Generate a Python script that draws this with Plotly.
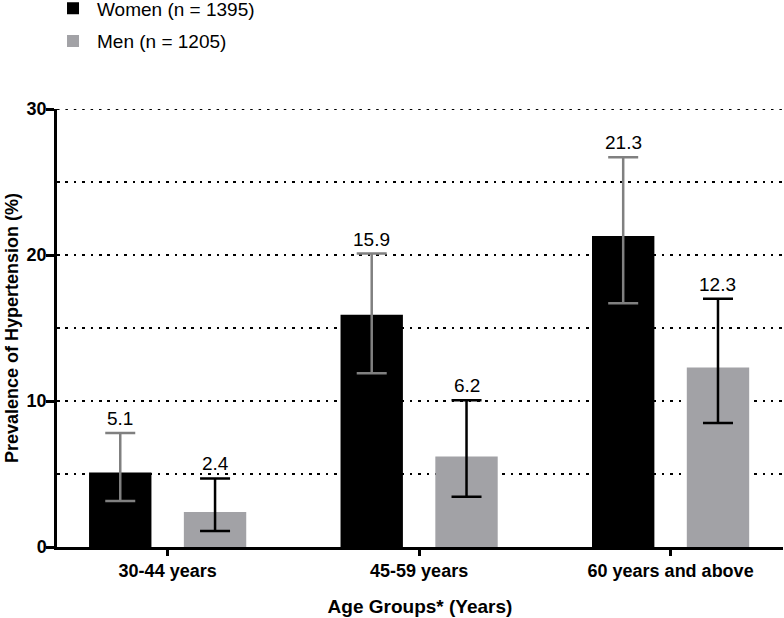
import plotly.graph_objects as go

# ---- data ----
categories = ["30-44 years", "45-59 years", "60 years and above"]
women = [5.1, 15.9, 21.3]
women_lo = [3.15, 11.9, 16.7]
women_hi = [7.8, 20.1, 26.7]
men = [2.4, 6.2, 12.3]
men_lo = [1.1, 3.45, 8.5]
men_hi = [4.7, 10.05, 17.0]
women_name = "Women (n = 1395)"
men_name = "Men (n = 1205)"
y_ticks = [0, 10, 20, 30]

FONT = "Liberation Sans, Arial, Helvetica, sans-serif"
BARGAP = 0.246
BARGROUPGAP = 0.342
off = (1 - BARGAP) / 4
DOT = "2.5px,5.9px"

fig = go.Figure()
fig.add_trace(go.Bar(
    x=categories, y=women, name=women_name,
    marker=dict(color="#000000", line=dict(width=0)),
    error_y=dict(type="data", symmetric=False,
                 array=[h - v for h, v in zip(women_hi, women)],
                 arrayminus=[v - l for v, l in zip(women, women_lo)],
                 color="#808080", thickness=2.5, width=15),
    legendgroup="w",
))
fig.add_trace(go.Bar(
    x=categories, y=men, name=men_name,
    marker=dict(color="#a2a2a6", line=dict(width=0)),
    error_y=dict(type="data", symmetric=False,
                 array=[h - v for h, v in zip(men_hi, men)],
                 arrayminus=[v - l for v, l in zip(men, men_lo)],
                 color="#000000", thickness=2.5, width=15),
    legendgroup="m",
))

annotations = []
for i, (v, h) in enumerate(zip(women, women_hi)):
    annotations.append(dict(x=i - off, y=h, xref="x", yref="y", text=f"{v}",
                            showarrow=False, yanchor="bottom", yshift=2,
                            font=dict(size=19, color="#000000", family=FONT)))
for i, (v, h) in enumerate(zip(men, men_hi)):
    annotations.append(dict(x=i + off, y=h, xref="x", yref="y", text=f"{v}",
                            showarrow=False, yanchor="bottom", yshift=2,
                            font=dict(size=19, color="#000000", family=FONT)))

# dotted gridline at the top of the axis (plotly skips the edge gridline)
shapes = [dict(type="line", xref="paper", yref="y", x0=0, x1=1,
               y0=max(y_ticks), y1=max(y_ticks), layer="below",
               line=dict(color="#000000", width=2.2, dash=DOT))]

fig.update_layout(
    width=784, height=618,
    margin=dict(l=57, r=1, t=109, b=71, autoexpand=False),
    paper_bgcolor="white", plot_bgcolor="white",
    barmode="group", bargap=BARGAP, bargroupgap=BARGROUPGAP,
    font=dict(family=FONT, color="#000000"),
    annotations=annotations,
    shapes=shapes,
    legend=dict(x=-0.011, y=1.273, xanchor="left", yanchor="top",
                font=dict(size=19, family=FONT), itemwidth=38,
                tracegroupgap=5, bgcolor="rgba(0,0,0,0)"),
    showlegend=True,
)
fig.update_xaxes(
    type="category", range=[-0.44, 2.447], automargin=False,
    showline=True, linecolor="#000000", linewidth=2.5,
    ticks="outside", ticklen=6, tickwidth=2.5, tickcolor="#000000",
    tickfont=dict(size=18, family=FONT, weight="bold"),
    showgrid=False, zeroline=False,
    title=dict(text="Age Groups* (Years)", font=dict(size=19, family=FONT, weight="bold"),
               standoff=20),
)
fig.update_yaxes(
    range=[0, 30], tickvals=y_ticks, automargin=False,
    showline=True, linecolor="#000000", linewidth=2.5,
    ticks="outside", ticklen=8, tickwidth=2.5, tickcolor="#000000",
    tickfont=dict(size=18, family=FONT, weight="bold"),
    ticklabelstandoff=-4,
    showgrid=True, gridcolor="#000000", gridwidth=2.2, griddash=DOT,
    minor=dict(dtick=5, showgrid=True, gridcolor="#000000", gridwidth=2.2,
               griddash=DOT, ticks=""),
    zeroline=False,
    title=dict(text="Prevalence of Hypertension (%)", font=dict(size=18, family=FONT, weight="bold"),
               standoff=4),
)

fig.write_html("out.html", config={"displayModeBar": False},
               post_script="document.body.style.margin='0';")
